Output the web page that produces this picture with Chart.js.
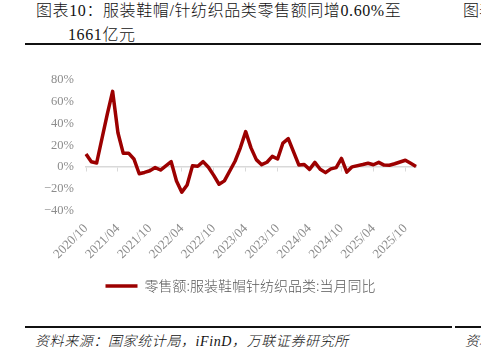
<!DOCTYPE html>
<html>
<head>
<meta charset="utf-8">
<script src="https://cdn.jsdelivr.net/npm/chart.js@4/dist/chart.umd.min.js"></script>
<style>
  body { margin: 0; width: 481px; height: 354px; overflow: hidden; background: #fff; position: relative; }
  .t { position: absolute; white-space: nowrap; font-family: "Liberation Serif", "Noto Sans CJK SC", serif; color: #111; font-weight: 300; }
  .rule { position: absolute; height: 2px; background: #111; }
  #wrap { position: absolute; left: 0; top: 60px; width: 481px; height: 243px; }
</style>
</head>
<body>
<div class="t" style="left:36px; top:-3px; font-size:16px; letter-spacing:0.6px;">图表10：服装鞋帽/针纺织品类零售额同增0.60%至</div>
<div class="t" style="left:68px; top:21px; font-size:16px; letter-spacing:0.6px;">1661亿元</div>
<div class="t" style="left:463px; top:-3px; font-size:16px;">图表</div>
<div class="rule" style="left:25px; top:43px; width:456px;"></div>

<div id="wrap"><canvas id="retailChart"></canvas></div>

<div class="rule" style="left:25px; top:326px; width:427px;"></div>
<div class="rule" style="left:455px; top:326px; width:26px;"></div>
<div class="t" style="left:35px; top:330px; font-size:14px; font-style:italic; letter-spacing:0.6px;">资料来源：国家统计局，iFinD，万联证券研究所</div>
<div class="t" style="left:465px; top:330px; font-size:14px; font-style:italic;">资料</div>

<script>
// 月份（1月数据与2月合并发布，故为空）
const months = [
    "2020/10", "2020/11", "2020/12",
    "2021/01", "2021/02", "2021/03", "2021/04", "2021/05", "2021/06", "2021/07", "2021/08", "2021/09", "2021/10", "2021/11", "2021/12",
    "2022/01", "2022/02", "2022/03", "2022/04", "2022/05", "2022/06", "2022/07", "2022/08", "2022/09", "2022/10", "2022/11", "2022/12",
    "2023/01", "2023/02", "2023/03", "2023/04", "2023/05", "2023/06", "2023/07", "2023/08", "2023/09", "2023/10", "2023/11", "2023/12",
    "2024/01", "2024/02", "2024/03", "2024/04", "2024/05", "2024/06", "2024/07", "2024/08", "2024/09", "2024/10", "2024/11", "2024/12",
    "2025/01", "2025/02", "2025/03", "2025/04", "2025/05", "2025/06", "2025/07", "2025/08", "2025/09", "2025/10", "2025/11", "2025/12"
];

// 零售额:服装鞋帽针纺织品类:当月同比 (%)
const yoy = [
    12.1, 4.9, 3.8,
    null, 48.4, 69.2, 31.4, 12.6, 12.8, 7.5, -6.0, -4.8, -3.3, -0.4, -2.6,
    null, 5.0, -12.7, -22.8, -16.2, 1.2, 0.8, 5.1, -0.1, -7.5, -15.6, -12.5,
    null, 5.4, 17.7, 32.4, 17.6, 6.9, 2.3, 4.5, 9.9, 7.5, 22.0, 26.0,
    null, 1.9, 2.5, -2.0, 4.4, -1.9, -5.0, -1.6, -0.4, 8.0, -4.5, 0.3,
    null, 2.4, 3.6, 2.2, 4.4, 1.9, 1.8, 3.1, 4.7, 6.3, 3.5, 0.6
];

const seriesName = "零售额:服装鞋帽针纺织品类:当月同比";
const yTicks = [-40, -20, 0, 20, 40, 60, 80];
const lineColor = "#9c0000";
const axisGray = "#8c8c8c";

const ctx = document.getElementById("retailChart");
const chart = new Chart(ctx, {
    type: "line",
    data: {
        labels: months,
        datasets: [{
            label: seriesName,
            data: yoy,
            borderColor: lineColor,
            backgroundColor: lineColor,
            borderWidth: 3.5,
            pointRadius: 0,
            tension: 0,
            spanGaps: true,
            borderJoinStyle: "round"
        }]
    },
    options: {
        responsive: true,
        maintainAspectRatio: false,
        animation: false,
        layout: { padding: { top: 10, right: 0, bottom: 0, left: 0 } },
        plugins: {
            tooltip: { enabled: false },
            legend: {
                position: "bottom",
                labels: {
                    usePointStyle: true,
                    pointStyle: "line",
                    pointStyleWidth: 32,
                    boxHeight: 13,
                    color: "#595959",
                    padding: 10,
                    font: { family: "'Noto Sans CJK SC', sans-serif", size: 14, weight: 300 }
                }
            }
        },
        scales: {
            x: {
                type: "category",
                grid: { display: false, drawTicks: false },
                border: { display: false },
                ticks: {
                    autoSkip: false,
                    maxRotation: 45,
                    minRotation: 45,
                    padding: 10,
                    color: axisGray,
                    font: { family: "'Liberation Serif', serif", size: 13 },
                    callback: (v, i) => (i % 6 === 0 ? months[i] : "")
                },
                afterFit: s => { s.height = 58; }
            },
            x2: {
                type: "category",
                labels: months,
                position: { y: 0 },
                grid: {
                    drawOnChartArea: false,
                    tickLength: 4,
                    color: c => (c.index % 6 === 0 ? "#d9d9d9" : "rgba(0,0,0,0)")
                },
                border: { display: true, color: "#d9d9d9", width: 1.5 },
                ticks: { display: false, autoSkip: false }
            },
            y: {
                min: -40,
                max: 80,
                afterBuildTicks: s => { s.ticks = yTicks.map(v => ({ value: v })); },
                grid: { display: false, drawTicks: false },
                border: { display: false },
                ticks: {
                    padding: 12,
                    color: axisGray,
                    font: { family: "'Liberation Serif', serif", size: 12.5 },
                    callback: v => (v < 0 ? "\u2212" + Math.abs(v) : v) + "%"
                },
                afterFit: s => { s.width = 86; }
            },
            yRight: {
                position: "right",
                min: -40,
                max: 80,
                grid: { display: false, drawTicks: false },
                border: { display: false },
                ticks: { display: false },
                afterFit: s => { s.width = 65; }
            }
        }
    }
});
</script>
</body>
</html>
